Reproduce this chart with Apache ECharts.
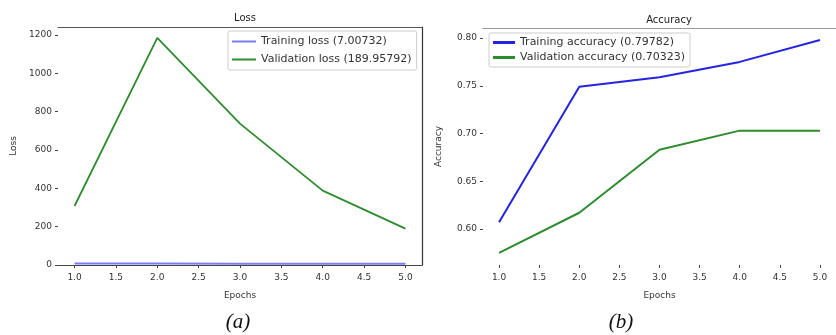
<!DOCTYPE html>
<html><head><meta charset="utf-8">
<script src="https://cdn.jsdelivr.net/npm/echarts@6/dist/echarts.min.js"></script>
<style>html,body{margin:0;padding:0;background:#fff}#c{width:836px;height:335px}</style>
</head><body><div id="c"></div>
<script>
const epochs = [1, 2, 3, 4, 5];
const xTicks = [1, 1.5, 2, 2.5, 3, 3.5, 4, 4.5, 5];
const trainLoss = [7.5, 7.2, 7.1, 7.0, 7.0];
const valLoss = [308, 1185, 738, 388, 190];
const trainAcc = [0.607, 0.749, 0.759, 0.775, 0.798];
const valAcc = [0.575, 0.617, 0.683, 0.703, 0.703];
const lossTicks = [0, 200, 400, 600, 800, 1000, 1200];
const accTicks = [0.60, 0.65, 0.70, 0.75, 0.80];
const names = {
  tl: 'Training loss (7.00732)', vl: 'Validation loss (189.95792)',
  ta: 'Training accuracy (0.79782)', va: 'Validation accuracy (0.70323)'
};
const pairs = a => epochs.map((e, i) => [e, a[i]]);
const font = 'DejaVu Sans';
const lbl = {fontSize: 9, color: '#333', fontFamily: font};
function xAx(gi, showLine) {
  return {type: 'value', gridIndex: gi, min: 0.8, max: 5.2, position: 'bottom',
    splitLine: {show: false},
    axisLine: {show: showLine, onZero: false, lineStyle: {color: '#444', width: 1}},
    axisTick: {show: true, length: 3, customValues: xTicks, lineStyle: {color: '#444'}},
    axisLabel: Object.assign({customValues: xTicks, formatter: v => v.toFixed(1), margin: 8}, lbl),
    name: 'Epochs', nameLocation: 'middle', nameGap: 26,
    nameTextStyle: {fontSize: 9, color: '#333', fontFamily: font}};
}
function topAx(gi, col) {
  return {type: 'value', gridIndex: gi, position: 'top', min: 0.8, max: 5.2,
    axisLine: {show: true, onZero: false, lineStyle: {color: col, width: 1.2}},
    axisTick: {show: false}, axisLabel: {show: false}, splitLine: {show: false}};
}
const option = {
  animation: false,
  title: [
    {text: 'Loss', left: 240, top: 8, textAlign: 'center', textStyle: {fontSize: 10, fontWeight: 'normal', color: '#222', fontFamily: font}},
    {text: 'Accuracy', left: 664, top: 10, textAlign: 'center', textStyle: {fontSize: 10, fontWeight: 'normal', color: '#222', fontFamily: font}},
    {text: '(a)', left: 233, top: 307, textAlign: 'center', textStyle: {fontSize: 21, fontWeight: 'normal', fontStyle: 'italic', color: '#111', fontFamily: 'Liberation Serif'}},
    {text: '(b)', left: 616, top: 307, textAlign: 'center', textStyle: {fontSize: 21, fontWeight: 'normal', fontStyle: 'italic', color: '#111', fontFamily: 'Liberation Serif'}}
  ],
  legend: [
    {data: [names.tl, names.vl], orient: 'vertical', left: 228, top: 31, itemGap: 7,
     itemWidth: 24, itemHeight: 2, icon: 'rect', borderColor: '#ccc', borderWidth: 1, borderRadius: 2,
     padding: [5, 5, 5, 4], textStyle: {fontSize: 11, color: '#333', fontFamily: font}},
    {data: [names.ta, names.va], orient: 'vertical', left: 489, top: 33, itemGap: 4,
     itemWidth: 22, itemHeight: 3, icon: 'rect', borderColor: '#ccc', borderWidth: 1, borderRadius: 2,
     padding: [4, 5, 4, 4], textStyle: {fontSize: 11, color: '#333', fontFamily: font}}
  ],
  grid: [
    {left: 58, top: 27, width: 364, height: 238},
    {left: 483, top: 28, width: 362, height: 237}
  ],
  xAxis: [xAx(0, true), xAx(1, false), topAx(0, '#555'), topAx(1, '#999')],
  yAxis: [
    {type: 'value', gridIndex: 0, min: 0, max: 1242,
     splitLine: {show: false}, axisLine: {show: false},
     axisTick: {show: true, length: 3, customValues: lossTicks, lineStyle: {color: '#444'}},
     axisLabel: Object.assign({customValues: lossTicks, formatter: v => String(v), margin: 6}, lbl),
     name: 'Loss', nameLocation: 'middle', nameGap: 40,
     nameTextStyle: {fontSize: 9, color: '#333', fontFamily: font}},
    {type: 'value', gridIndex: 1, min: 0.5623, max: 0.8105,
     splitLine: {show: false}, axisLine: {show: false},
     axisTick: {show: true, length: 3, customValues: accTicks, lineStyle: {color: '#444'}},
     axisLabel: Object.assign({customValues: accTicks, formatter: v => v.toFixed(2), margin: 6}, lbl),
     name: 'Accuracy', nameLocation: 'middle', nameGap: 40,
     nameTextStyle: {fontSize: 9, color: '#333', fontFamily: font}},
    {type: 'value', gridIndex: 0, position: 'right', min: 0, max: 1242,
     axisLine: {show: true, onZero: false, lineStyle: {color: '#333', width: 1.2}},
     axisTick: {show: false}, axisLabel: {show: false}, splitLine: {show: false}}
  ],
  series: [
    {name: names.tl, type: 'line', xAxisIndex: 0, yAxisIndex: 0, data: pairs(trainLoss),
     showSymbol: false, color: '#7b7bf5', lineStyle: {width: 2, color: '#7b7bf5'}},
    {name: names.vl, type: 'line', xAxisIndex: 0, yAxisIndex: 0, data: pairs(valLoss),
     showSymbol: false, color: '#2e8b2e', lineStyle: {width: 1.8, color: '#2e8b2e'}},
    {name: names.ta, type: 'line', xAxisIndex: 1, yAxisIndex: 1, data: pairs(trainAcc),
     showSymbol: false, color: '#2424e0', lineStyle: {width: 2, color: '#2424e0'}},
    {name: names.va, type: 'line', xAxisIndex: 1, yAxisIndex: 1, data: pairs(valAcc),
     showSymbol: false, color: '#2e8b2e', lineStyle: {width: 2, color: '#2e8b2e'}}
  ]
};
const chart = echarts.init(document.getElementById('c'), null, {renderer: 'canvas'});
chart.setOption(option);
</script></body></html>
